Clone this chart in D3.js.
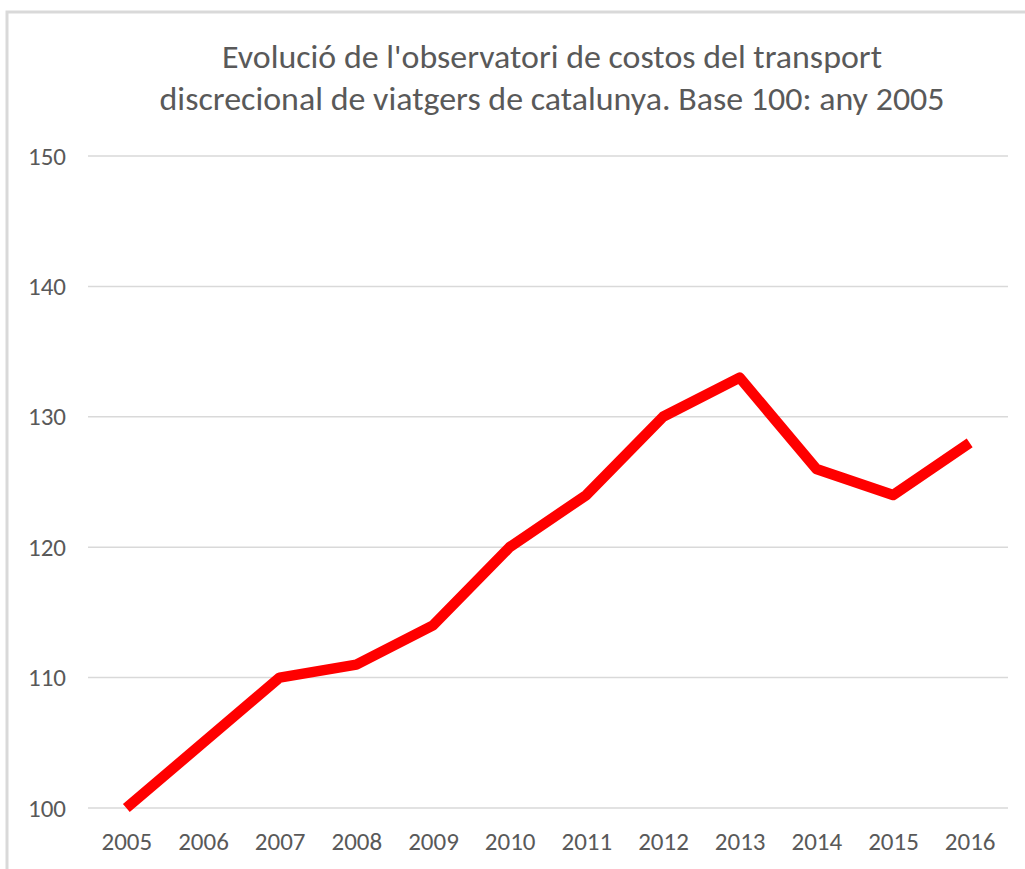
<!DOCTYPE html>
<html>
<head>
<meta charset="utf-8">
<script src="https://cdn.jsdelivr.net/npm/d3@7"></script>
<style>
  html, body { margin: 0; padding: 0; background: #fff; }
  svg { display: block; }
  text { font-family: Carlito, Calibri, "Liberation Sans Narrow", "Open Sans", sans-serif; fill: #595959; }
</style>
</head>
<body>
<div id="chart"></div>
<script>
// index, base 100 = 2005
const YEARS = ['2005','2006','2007','2008','2009','2010','2011','2012','2013','2014','2015','2016'];
const INDEX = [100, 105, 110, 111, 114, 120, 124, 130, 133, 126, 124, 128];
const Y_TICKS = [100, 110, 120, 130, 140, 150];
const TITLE = ["Evolució de l'observatori de costos del transport",
               'discrecional de viatgers de catalunya. Base 100: any 2005'];
const TITLE_W = [660, 785];

const W = 1025, H = 869;
const m = { left: 88, right: 17, top: 156, bottom: 61 };

const svg = d3.select('#chart').append('svg').attr('width', W).attr('height', H);

// chart frame (only top + left visible in the crop)
svg.append('path').attr('d', `M7,${H} V12 H${W}`)
  .attr('fill', 'none').attr('stroke', '#d9d9d9').attr('stroke-width', 3);

const x = d3.scalePoint().domain(YEARS).range([m.left, W - m.right]).padding(0.5);
const y = d3.scaleLinear().domain([100, 150]).range([H - m.bottom, m.top]);

// gridlines
svg.append('g').selectAll('line').data(Y_TICKS).join('line')
  .attr('x1', m.left).attr('x2', W - m.right)
  .attr('y1', d => y(d)).attr('y2', d => y(d))
  .attr('stroke', '#d9d9d9').attr('stroke-width', 1.5);

// y axis labels
const ya = svg.append('g').attr('transform', `translate(${m.left},0)`)
  .call(d3.axisLeft(y).tickValues(Y_TICKS).tickSize(0).tickPadding(22));
ya.select('.domain').remove();

// x axis labels
const xa = svg.append('g').attr('transform', `translate(0,${H - m.bottom})`)
  .call(d3.axisBottom(x).tickSize(0).tickPadding(24));
xa.select('.domain').remove();

svg.selectAll('.tick text').attr('font-family', null).attr('font-size', 25).attr('fill', '#595959');

// series
const line = d3.line().x((d, i) => x(YEARS[i])).y(d => y(d));
svg.append('path').datum(INDEX).attr('d', line)
  .attr('fill', 'none').attr('stroke', '#ff0000').attr('stroke-width', 10.5)
  .attr('stroke-linejoin', 'round').attr('stroke-linecap', 'butt');

// title
svg.append('g').selectAll('text').data(TITLE).join('text')
  .attr('x', 552).attr('y', (d, i) => 68 + i * 42)
  .attr('text-anchor', 'middle').attr('font-size', 32)
  .attr('textLength', (d, i) => TITLE_W[i]).attr('lengthAdjust', 'spacingAndGlyphs')
  .text(d => d);
</script>
</body>
</html>
